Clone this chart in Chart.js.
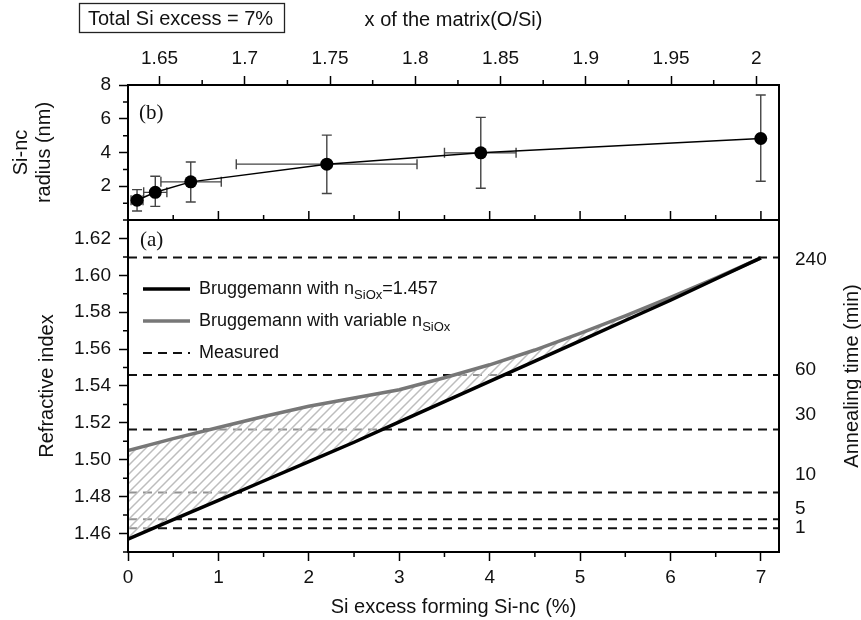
<!DOCTYPE html>
<html>
<head>
<meta charset="utf-8">
<script src="https://cdn.jsdelivr.net/npm/chart.js@4.4.1/dist/chart.umd.min.js"></script>
<style>body{margin:0;background:#fff}</style>
</head>
<body>
<canvas id="myChart" width="861" height="620"></canvas>
<script>
// (b) Si-nc radius against x of the matrix (O/Si)
const radiusX     = [1.6368, 1.6475, 1.6683, 1.7481, 1.8384, 2.0026];
const radiusY     = [1.17, 1.64, 2.26, 3.31, 3.98, 4.83];
const radiusYLow  = [0.53, 0.81, 1.07, 1.57, 1.88, 2.30];
const radiusYHigh = [1.80, 2.59, 3.44, 5.03, 6.08, 7.41];
const radiusXLow  = [1.6333, 1.6407, 1.6508, 1.6950, 1.8171, 2.0008];
const radiusXHigh = [1.6403, 1.6543, 1.6862, 1.8010, 1.8591, 2.0044];

// (a) refractive index against Si excess forming Si-nc
const siExcess = [0, 0.5, 1, 1.5, 2, 2.5, 3, 3.5, 4, 4.5, 5, 5.5, 6, 6.5, 7];
const nFixed   = [1.457, 1.4675, 1.478, 1.4885, 1.499, 1.5095, 1.5205, 1.5315, 1.5425, 1.5535, 1.5645, 1.5755, 1.5865, 1.598, 1.6095];
const nVar     = [1.505, 1.5115, 1.5175, 1.5235, 1.529, 1.5335, 1.538, 1.5445, 1.5515, 1.5595, 1.5685, 1.578, 1.588, 1.5985, 1.6095];
const measuredN = [1.6097, 1.546, 1.5164, 1.4822, 1.4678, 1.4629];

// annealing time labels on the right side, and where they sit on the n scale
const annealLabels = ['240', '60', '30', '10', '5', '1'];
const annealTickN  = [1.6087, 1.5487, 1.5242, 1.4921, 1.4736, 1.4633];

// ticks
const xTicks = [0, 1, 2, 3, 4, 5, 6, 7];
const xMinor = [0.5, 1.5, 2.5, 3.5, 4.5, 5.5, 6.5];
const yTicks = [1.46, 1.48, 1.50, 1.52, 1.54, 1.56, 1.58, 1.60, 1.62];
const yMinor = [1.45, 1.47, 1.49, 1.51, 1.53, 1.55, 1.57, 1.59, 1.61, 1.63];
const yTopTicks = [2, 4, 6, 8];
const yTopMinor = [1, 3, 5, 7];
const x2Ticks = [1.65, 1.7, 1.75, 1.8, 1.85, 1.9, 1.95, 2];
const x2Minor = [1.675, 1.725, 1.775, 1.825, 1.875, 1.925, 1.975];

const X_MAX = 7.2;
const FONT = "'Liberation Sans', Arial, sans-serif";
Chart.defaults.font.family = FONT;
Chart.defaults.color = '#111';

var ctx = document.getElementById('myChart').getContext('2d');

// hatch pattern for the region between the two models
var hatch = document.createElement('canvas');
hatch.width = 9; hatch.height = 9;
var hc = hatch.getContext('2d');
hc.fillStyle = 'rgba(255,255,255,0.55)';
hc.fillRect(0, 0, 9, 9);
hc.strokeStyle = '#bdbdbd';
hc.lineWidth = 1.5;
hc.beginPath();
hc.moveTo(0, 9); hc.lineTo(9, 0);
hc.moveTo(-2, 2); hc.lineTo(2, -2);
hc.moveTo(7, 11); hc.lineTo(11, 7);
hc.stroke();
var hatchPattern = ctx.createPattern(hatch, 'repeat');

function pts(xs, ys) { return xs.map((x, i) => ({x: x, y: ys[i]})); }
function setTicks(list) { return s => { s.ticks = list.map(v => ({value: v})); }; }

var measuredSets = measuredN.map(n => ({
  data: [{x: 0, y: n}, {x: X_MAX, y: n}],
  xAxisID: 'x', yAxisID: 'y',
  borderColor: '#111', borderWidth: 2, borderDash: [9, 6],
  pointRadius: 0, fill: false
}));

const extras = {
  id: 'extras',
  beforeDatasetsDraw(chart) {
    const c = chart.ctx, xs = chart.scales.x2, ys = chart.scales.yTop;
    c.save();
    c.strokeStyle = '#444';
    c.lineWidth = 1.4;
    radiusX.forEach((v, i) => {
      const px = xs.getPixelForValue(v), py = ys.getPixelForValue(radiusY[i]);
      const y0 = ys.getPixelForValue(radiusYLow[i]), y1 = ys.getPixelForValue(radiusYHigh[i]);
      const x0 = xs.getPixelForValue(radiusXLow[i]), x1 = xs.getPixelForValue(radiusXHigh[i]);
      c.beginPath();
      c.moveTo(px, y0); c.lineTo(px, y1);
      c.moveTo(px - 5, y0); c.lineTo(px + 5, y0);
      c.moveTo(px - 5, y1); c.lineTo(px + 5, y1);
      c.moveTo(x0, py); c.lineTo(x1, py);
      c.moveTo(x0, py - 5); c.lineTo(x0, py + 5);
      c.moveTo(x1, py - 5); c.lineTo(x1, py + 5);
      c.stroke();
    });
    c.restore();
  },
  afterDraw(chart) {
    const c = chart.ctx, a = chart.chartArea;
    const sx = chart.scales.x, sy = chart.scales.y, sx2 = chart.scales.x2, syt = chart.scales.yTop;
    const mid = syt.bottom;
    c.save();
    // panel frames
    c.strokeStyle = '#000';
    c.lineWidth = 2;
    c.strokeRect(a.left, a.top, a.right - a.left, a.bottom - a.top);
    c.beginPath(); c.moveTo(a.left, mid); c.lineTo(a.right, mid); c.stroke();

    // minor ticks
    c.lineWidth = 1.5;
    c.beginPath();
    xMinor.forEach(v => { const p = sx.getPixelForValue(v); c.moveTo(p, a.bottom); c.lineTo(p, a.bottom + 5); });
    yMinor.forEach(v => { const p = sy.getPixelForValue(v); c.moveTo(a.left, p); c.lineTo(a.left - 5, p); });
    yTopMinor.forEach(v => { const p = syt.getPixelForValue(v); c.moveTo(a.left, p); c.lineTo(a.left - 5, p); });
    x2Minor.forEach(v => { const p = sx2.getPixelForValue(v); c.moveTo(p, a.top); c.lineTo(p, a.top - 5); });
    // ticks of the bottom axis repeated on the lower edge of panel (b)
    xTicks.forEach(v => { const p = sx.getPixelForValue(v); c.moveTo(p, mid); c.lineTo(p, mid - 9); });
    xMinor.forEach(v => { const p = sx.getPixelForValue(v); c.moveTo(p, mid); c.lineTo(p, mid - 5); });
    c.stroke();

    // panel letters
    c.fillStyle = '#111';
    c.font = "21px 'Liberation Serif', 'Times New Roman', serif";
    c.textBaseline = 'middle';
    c.textAlign = 'left';
    c.fillText('(b)', a.left + 11, syt.getPixelForValue(6.3));
    c.fillText('(a)', a.left + 12, sy.getPixelForValue(1.619));

    // legend
    const legend = [
      {main: 'Bruggemann with n', sub: 'SiOx', tail: '=1.457', color: '#000', width: 3.5, dash: []},
      {main: 'Bruggemann with variable n', sub: 'SiOx', tail: '', color: '#777', width: 3.5, dash: []},
      {main: 'Measured', sub: '', tail: '', color: '#111', width: 2.2, dash: [9, 6]}
    ];
    legend.forEach((it, i) => {
      const ly = 289 + i * 32;
      c.strokeStyle = it.color; c.lineWidth = it.width; c.setLineDash(it.dash);
      c.beginPath(); c.moveTo(143, ly); c.lineTo(190, ly); c.stroke();
      c.setLineDash([]);
      let tx = 199;
      c.font = '18px ' + FONT;
      c.fillText(it.main, tx, ly);
      tx += c.measureText(it.main).width;
      if (it.sub) {
        c.font = '13px ' + FONT;
        c.fillText(it.sub, tx, ly + 6);
        tx += c.measureText(it.sub).width;
      }
      if (it.tail) {
        c.font = '18px ' + FONT;
        c.fillText(it.tail, tx, ly);
      }
    });

    // annealing time labels and title on the right
    c.font = '19px ' + FONT;
    annealLabels.forEach((t, i) => c.fillText(t, a.right + 16, sy.getPixelForValue(annealTickN[i])));
    c.save();
    c.translate(852, (mid + a.bottom) / 2 - 10);
    c.rotate(-Math.PI / 2);
    c.textAlign = 'center';
    c.font = '20px ' + FONT;
    c.fillText('Annealing time (min)', 0, 0);
    c.restore();

    // boxed note
    c.lineWidth = 1.3;
    c.strokeStyle = '#222';
    c.strokeRect(79.5, 3.5, 205, 29);
    c.font = '20px ' + FONT;
    c.fillText('Total Si excess = 7%', 88, 19);
    c.restore();
  }
};

var tickGrid = {display: true, drawOnChartArea: false, drawTicks: true, tickLength: 9, tickColor: '#000', tickWidth: 1.5};

var myChart = new Chart(ctx, {
  type: 'line',
  data: {
    datasets: [{
        label: 'Bruggemann with nSiOx=1.457',
        data: pts(siExcess, nFixed),
        xAxisID: 'x', yAxisID: 'y',
        borderColor: '#000', borderWidth: 3.5,
        pointRadius: 0, fill: false
      }, {
        label: 'Bruggemann with variable nSiOx',
        data: pts(siExcess, nVar),
        xAxisID: 'x', yAxisID: 'y',
        borderColor: '#777', borderWidth: 3.5,
        backgroundColor: hatchPattern,
        pointRadius: 0, fill: '-1'
      }, {
        label: 'Si-nc radius',
        data: pts(radiusX, radiusY),
        xAxisID: 'x2', yAxisID: 'yTop',
        borderColor: '#000', borderWidth: 1.5,
        backgroundColor: '#000', pointBackgroundColor: '#000',
        pointRadius: 6.5, pointBorderWidth: 0, fill: false
      }
    ].concat(measuredSets)
  },
  options: {
    responsive: false,
    animation: false,
    layout: {padding: {top: 0, left: 0, bottom: 0, right: 82}},
    plugins: {legend: {display: false}, tooltip: {enabled: false}},
    scales: {
      x: {
        type: 'linear', position: 'bottom', min: 0, max: X_MAX,
        afterBuildTicks: setTicks(xTicks),
        afterFit: s => { s.height = 68; },
        grid: tickGrid, border: {display: false},
        ticks: {font: {size: 19}, padding: 5, maxRotation: 0, autoSkip: false, callback: v => String(v)},
        title: {display: true, text: 'Si excess forming Si-nc (%)', font: {size: 20}, padding: {top: 0, bottom: 1}}
      },
      x2: {
        type: 'linear', position: 'top', min: 1.6315, max: 2.0133,
        afterBuildTicks: setTicks(x2Ticks),
        afterFit: s => { s.height = 85; },
        grid: tickGrid, border: {display: false},
        ticks: {font: {size: 19}, padding: 6, maxRotation: 0, autoSkip: false, callback: v => String(+v.toFixed(2))},
        title: {display: true, text: 'x of the matrix(O/Si)', font: {size: 20}, padding: {top: 8, bottom: 0}}
      },
      y: {
        type: 'linear', position: 'left', stack: 'left', stackWeight: 332,
        min: 1.45, max: 1.63,
        afterBuildTicks: setTicks(yTicks),
        afterFit: s => { s.width = 128; },
        grid: tickGrid, border: {display: false},
        ticks: {font: {size: 19}, padding: 8, autoSkip: false, callback: v => v.toFixed(2)},
        title: {display: true, text: 'Refractive index', font: {size: 20, lineHeight: 1.15}, padding: {top: 36, bottom: 0}}
      },
      yTop: {
        type: 'linear', position: 'left', stack: 'left', stackWeight: 135,
        min: 0, max: 8,
        afterBuildTicks: setTicks(yTopTicks),
        afterFit: s => { s.width = 128; },
        grid: tickGrid, border: {display: false},
        ticks: {font: {size: 19}, padding: 8, autoSkip: false, callback: v => String(v)},
        title: {display: true, text: ['Si-nc', 'radius (nm)'], font: {size: 20, lineHeight: 1.15}, padding: {top: 10, bottom: 0}}
      }
    }
  },
  plugins: [extras]
});
</script>
</body>
</html>
